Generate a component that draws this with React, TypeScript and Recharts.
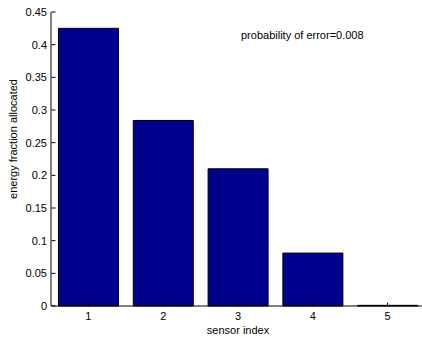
import React from 'react';
import { BarChart, Bar, XAxis, YAxis } from 'recharts';

// values
const sensorIndex = ['1', '2', '3', '4', '5'];
const energyFraction = [0.425, 0.284, 0.21, 0.081, 0.001];
const yTicks = [0, 0.05, 0.1, 0.15, 0.2, 0.25, 0.3, 0.35, 0.4, 0.45];

const data = sensorIndex.map((name, i) => ({ name, value: energyFraction[i] }));

const FONT = '"Liberation Sans", Arial, sans-serif';
const PLOT_LEFT = 51.5;
const PLOT_RIGHT = 425.5;
const PLOT_TOP = 12.5;
const PLOT_BOTTOM = 306.5;
const TICK = 4;

// MATLAB style ticks point into the plot box
function BottomTick({ x, payload }: any) {
  return (
    <g>
      <line x1={x} x2={x} y1={PLOT_BOTTOM} y2={PLOT_BOTTOM - TICK} stroke="#000" />
      <text x={x} y={320} textAnchor="middle" fontSize={11} fontFamily={FONT} fill="#000">
        {payload.value}
      </text>
    </g>
  );
}

function TopTick({ x }: any) {
  return <line x1={x} x2={x} y1={PLOT_TOP} y2={PLOT_TOP + TICK} stroke="#000" />;
}

function LeftTick({ y, payload }: any) {
  return (
    <g>
      <line x1={PLOT_LEFT} x2={PLOT_LEFT + TICK} y1={y} y2={y} stroke="#000" />
      <text x={47} y={y + 4} textAnchor="end" fontSize={11} fontFamily={FONT} fill="#000">
        {String(payload.value)}
      </text>
    </g>
  );
}

function RightTick({ y }: any) {
  return <line x1={PLOT_RIGHT} x2={PLOT_RIGHT - TICK} y1={y} y2={y} stroke="#000" />;
}

export default function App() {
  return (
    <div
      style={{
        position: 'absolute',
        left: 0,
        top: 0,
        width: 422,
        height: 337,
        overflow: 'hidden',
        background: '#fff',
      }}
    >
      <BarChart
        width={430}
        height={337}
        data={data}
        margin={{ top: 12, right: 5, left: 0, bottom: 0 }}
        barCategoryGap="10%"
      >
        <XAxis
          dataKey="name"
          height={31}
          axisLine={{ stroke: '#000' }}
          tickLine={false}
          tick={<BottomTick />}
          interval={0}
          label={{
            value: 'sensor index',
            position: 'insideBottom',
            offset: 3,
            fontSize: 11,
            fontFamily: FONT,
            fill: '#000',
          }}
        />
        <XAxis
          xAxisId="top"
          dataKey="name"
          orientation="top"
          height={0}
          axisLine={{ stroke: '#000' }}
          tickLine={false}
          tick={<TopTick />}
          interval={0}
        />
        <YAxis
          width={51}
          domain={[0, 0.45]}
          ticks={yTicks}
          interval={0}
          axisLine={{ stroke: '#000' }}
          tickLine={false}
          tick={<LeftTick />}
          label={{
            value: 'energy fraction allocated',
            angle: -90,
            position: 'insideLeft',
            fontSize: 11,
            fontFamily: FONT,
            fill: '#000',
            content: (p: any) => (
              <text
                x={16.5}
                y={139}
                transform="rotate(-90 16.5 139)"
                textAnchor="middle"
                fontSize={11}
                fontFamily={FONT}
                fill="#000"
              >
                energy fraction allocated
              </text>
            ),
          }}
        />
        <YAxis
          yAxisId="right"
          orientation="right"
          width={0}
          domain={[0, 0.45]}
          ticks={yTicks}
          interval={0}
          axisLine={{ stroke: '#000' }}
          tickLine={false}
          tick={<RightTick />}
        />
        <Bar dataKey="value" fill="#00008F" stroke="#000" strokeWidth={1} isAnimationActive={false} />
      </BarChart>
      <div
        style={{
          position: 'absolute',
          left: 241,
          top: 30,
          fontSize: 11,
          lineHeight: '11px',
          fontFamily: FONT,
          color: '#000',
          whiteSpace: 'nowrap',
        }}
      >
        probability of error=0.008
      </div>
    </div>
  );
}
